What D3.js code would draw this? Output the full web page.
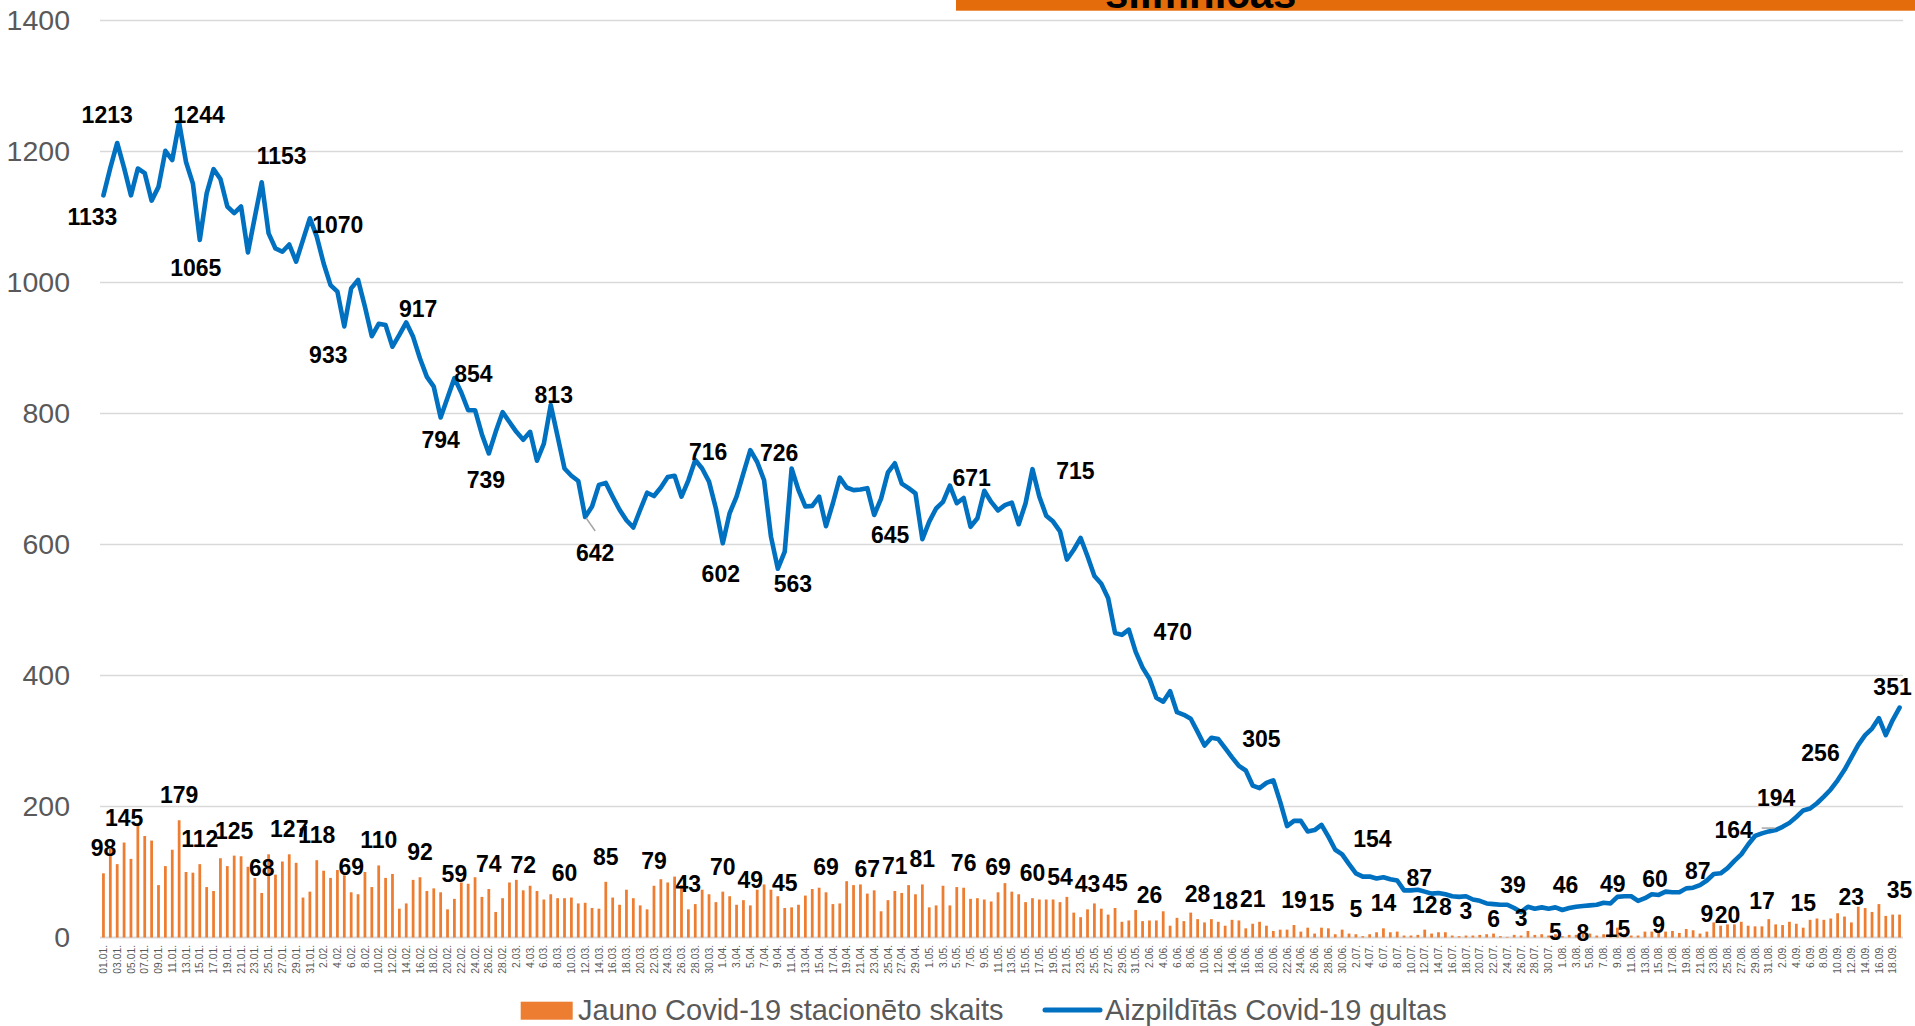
<!DOCTYPE html>
<html><head><meta charset="utf-8">
<script src="https://cdn.jsdelivr.net/npm/d3@7"></script>
<style>
html,body{margin:0;padding:0;background:#fff;overflow:hidden}
svg{display:block}
</style></head><body>
<svg id="chart" width="1915" height="1026"></svg>
<script>
// ---------- data ----------
const firstDay = [2021, 0, 1];
const lastDay = [2021, 8, 19];
const seriesNames = ["Jauno Covid-19 stacionēto skaits", "Aizpildītās Covid-19 gultas"];
const titleText = "slimnīcās";
const yTicks = [0, 200, 400, 600, 800, 1000, 1200, 1400];

// new hospitalised per day (bars)
const newHospitalized = [
 98,136,112,145,120,174,155,148,80,109,134,179,100,99,112,77,71,121,109,125,124,108,91,68,127,96,116,127,114,61,70,
 118,102,91,103,95,69,66,100,77,110,91,97,44,52,88,92,71,75,69,43,59,84,82,92,62,74,39,60,
 84,88,72,79,71,58,66,60,60,61,52,53,45,44,85,61,50,73,60,49,43,79,89,84,93,80,43,51,73,66,54,
 70,63,50,57,49,73,81,73,63,45,46,50,64,74,76,69,51,52,86,80,81,67,72,40,57,71,68,80,66,81,46,
 49,79,49,77,76,59,60,58,55,69,83,70,66,54,60,58,58,58,54,62,38,31,43,52,44,35,45,24,26,42,25,
 26,26,40,18,30,25,38,28,23,28,24,18,27,26,14,21,24,18,10,12,12,19,9,15,6,15,14,5,12,6,
 5,2,5,8,14,8,9,3,3,4,12,6,8,8,3,2,3,3,4,5,6,2,1,4,3,10,4,5,3,5,2,4,
 4,8,6,3,5,14,15,5,3,3,9,9,9,9,10,7,13,11,6,9,23,18,20,20,24,18,17,17,28,20,19,
 24,21,15,27,29,27,29,37,32,23,47,45,39,51,33,35,35
];

// occupied Covid-19 beds (line)
const occupiedBeds = [
 1133,1175,1213,1175,1133,1174,1167,1125,1146,1201,1187,1244,1184,1151,1065,1136,1173,1158,1116,1106,1116,1046,1100,1153,1075,1052,1047,1058,1032,1065,1098,
 1070,1029,996,986,933,991,1004,963,918,937,935,902,920,939,917,884,856,841,794,824,854,832,805,805,768,739,772,802,
 787,772,760,772,728,754,813,765,716,705,697,642,658,691,694,673,653,637,626,653,679,674,687,703,705,673,698,729,716,696,655,
 602,648,673,709,744,726,698,612,563,589,716,683,658,659,673,628,663,702,687,683,684,686,645,670,710,724,693,686,678,608,
 635,655,665,690,663,671,627,640,682,665,652,660,664,631,663,715,673,644,635,620,577,592,610,582,552,540,518,465,462,470,436,
 412,395,366,360,376,344,340,334,314,293,305,303,289,275,262,255,232,228,236,240,207,170,178,178,162,164,172,154,134,127,
 112,98,93,93,90,92,89,87,72,72,73,70,67,68,66,63,62,63,58,56,52,51,50,50,45,39,47,44,46,44,46,42,
 45,47,48,49,50,53,52,62,63,63,56,60,66,65,70,69,69,75,76,80,87,97,98,106,117,127,142,155,159,162,164,
 169,175,184,194,197,205,215,226,240,256,275,294,309,319,335,309,332,351
];

// which points carry a value label
const barLabelIdx = [0,3,11,14,19,23,27,31,36,40,46,51,56,61,67,73,80,85,90,94,99,105,111,115,119,125,130,135,139,143,147,152,159,163,167,173,177,182,186,192,195,198,202,206,211,215,220,226,233,236,241,247,254,261];
// label placement tweaks (index -> vertical shift, px)
const barLabelShift = {202:10, 206:7, 211:23, 215:26, 220:26, 226:18, 233:7, 236:16};
// line labels: [index, dx, dy] offset of the label centre from the point
const lineLabels = [
 [0,-11,22],[2,-10,-28],[11,20,-8],[14,-4,28],[23,20,-26],[31,21,-12],[35,-16,29],[45,5,-28],
 [49,0,23],[51,19,-4],[56,-3,27],[65,3,-10],[70,10,36],[87,6,-17],[90,-2,31],[95,22,-9],[98,15,15],
 [112,16,20],[125,8,-20],[135,43,2],[149,44,2],[161,50,1],[178,44,2],[188,22,-3],[206,-8,-27],
 [211,10,-22],[216,23,-21],[224,10,-19],[233,-9,-10],[243,-42,0],[247,-27,-12],[253,-24,-17],[261,-7,-21]
];

// ---------- chart ----------
const W = 1915, H = 1026;
const svg = d3.select("#chart");
const days = d3.timeDay.range(new Date(...firstDay), d3.timeDay.offset(new Date(...lastDay), 1));
const idx = d3.range(days.length);

const x = d3.scaleBand().domain(idx).range([100, 1903]).padding(0);
const xc = i => x(i) + x.bandwidth() / 2;
const y = d3.scaleLinear().domain([0, 1400]).range([937.5, 20.5]);

const fmtJan = d3.timeFormat("%d.%m.");
const fmtOther = d3.timeFormat("%-d.%m.");
const tickLabel = i => days[i].getMonth() === 0 ? fmtJan(days[i]) : fmtOther(days[i]);

// title box (mostly cut off at the top edge)
svg.append("rect").attr("x", 956).attr("y", 0).attr("width", W - 956).attr("height", 10.7).attr("fill", "#E46C0A");
svg.append("text").attr("x", 1105).attr("y", 7.5).text(titleText)
  .attr("font-family", "'Liberation Sans', Arial, sans-serif").attr("font-weight", "bold")
  .attr("font-size", 42).attr("fill", "#000");

// gridlines
svg.append("g").selectAll("line").data(yTicks).join("line")
  .attr("x1", 100).attr("x2", 1903)
  .attr("y1", d => y(d)).attr("y2", d => y(d))
  .attr("stroke", "#D9D9D9").attr("stroke-width", d => d === 0 ? 2 : 1.6);

// y axis
const yAxis = svg.append("g").attr("transform", "translate(70,0)")
  .call(d3.axisLeft(y).tickValues(yTicks).tickSize(0).tickPadding(0).tickFormat(d3.format("d")));
yAxis.select(".domain").remove();
yAxis.selectAll("text").attr("font-family", "'Liberation Sans', Arial, sans-serif")
  .attr("font-size", 28.5).attr("fill", "#595959");

// x axis
const xAxis = svg.append("g").attr("transform", "translate(0,937.5)")
  .call(d3.axisBottom(x).tickValues(idx.filter(i => i % 2 === 0)).tickSize(0).tickFormat(tickLabel));
xAxis.select(".domain").remove();
xAxis.selectAll("text")
  .attr("transform", "rotate(-90)").attr("text-anchor", "end")
  .attr("x", -7.5).attr("y", 0).attr("dy", "0.35em")
  .attr("font-family", "'Liberation Sans', Arial, sans-serif")
  .attr("font-size", 10.3).attr("fill", "#595959");

// bars
const bw = x.bandwidth() * 0.4;
svg.append("g").selectAll("rect").data(newHospitalized).join("rect")
  .attr("x", (d, i) => xc(i) - bw / 2).attr("width", bw)
  .attr("y", d => y(d)).attr("height", d => y(0) - y(d))
  .attr("fill", "#ED7D31");

// line
const line = d3.line().x((d, i) => xc(i)).y(d => y(d));
svg.append("path").datum(occupiedBeds).attr("d", line)
  .attr("fill", "none").attr("stroke", "#0070C0").attr("stroke-width", 4.6)
  .attr("stroke-linejoin", "round").attr("stroke-linecap", "round");

// leader lines
const lead = svg.append("g").attr("stroke", "#A6A6A6").attr("stroke-width", 1.5);
lead.append("line").attr("x1", xc(70) + 1).attr("y1", y(occupiedBeds[70]) + 1)
  .attr("x2", xc(70) + 10).attr("y2", y(occupiedBeds[70]) + 14);
lead.append("line").attr("x1", xc(243) - 14).attr("y1", y(occupiedBeds[243]) - 2)
  .attr("x2", xc(243) - 1).attr("y2", y(occupiedBeds[243]) - 2);

const labelFont = "'Liberation Sans', Arial, sans-serif";
// bar labels
svg.append("g").selectAll("text").data(barLabelIdx).join("text")
  .attr("x", i => xc(i))
  .attr("y", i => y(newHospitalized[i]) - 17 + (barLabelShift[i] || 0))
  .attr("text-anchor", "middle")
  .attr("font-family", labelFont).attr("font-weight", "bold").attr("font-size", 23)
  .attr("fill", "#000")
  .text(i => newHospitalized[i]);

// line labels
svg.append("g").selectAll("text").data(lineLabels).join("text")
  .attr("x", d => xc(d[0]) + d[1])
  .attr("y", d => y(occupiedBeds[d[0]]) + d[2] + 8)
  .attr("text-anchor", "middle")
  .attr("font-family", labelFont).attr("font-weight", "bold").attr("font-size", 23)
  .attr("fill", "#000")
  .text(d => occupiedBeds[d[0]]);

// legend
const lg = svg.append("g").attr("font-family", labelFont).attr("font-size", 29).attr("fill", "#595959");
lg.append("rect").attr("x", 520.7).attr("y", 1001.7).attr("width", 52).attr("height", 18).attr("fill", "#ED7D31");
lg.append("text").attr("x", 578).attr("y", 1019.5).text(seriesNames[0]);
lg.append("line").attr("x1", 1045).attr("x2", 1100).attr("y1", 1010).attr("y2", 1010)
  .attr("stroke", "#0070C0").attr("stroke-width", 5).attr("stroke-linecap", "round");
lg.append("text").attr("x", 1105).attr("y", 1019.5).text(seriesNames[1]);
</script>
</body></html>
